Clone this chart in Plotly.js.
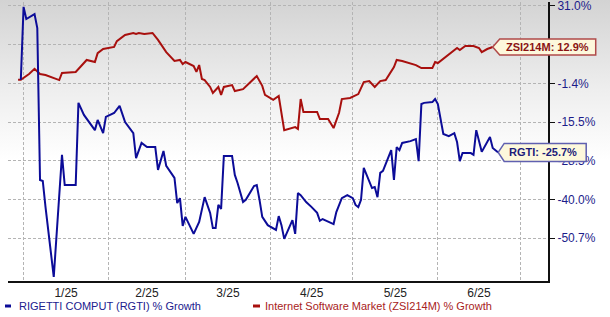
<!DOCTYPE html>
<html>
<head>
<meta charset="utf-8">
<script src="https://cdn.plot.ly/plotly-3.0.1.min.js"></script>
<style>
  html, body { margin: 0; padding: 0; }
  body { width: 610px; height: 317px; overflow: hidden;
         background: linear-gradient(to bottom, #d3d3d3 0px, #eeeeee 90px, #ffffff 160px, #ffffff 317px); }
  #chart { width: 610px; height: 317px; }
</style>
</head>
<body>
<div id="chart"></div>
<script>
// ---- data (percent growth since start) ----
const rgtiDates = ["2024-12-31","2025-01-01","2025-01-02","2025-01-05","2025-01-06","2025-01-07","2025-01-08","2025-01-09","2025-01-12","2025-01-14","2025-01-15","2025-01-16","2025-01-20","2025-01-21","2025-01-23","2025-01-27","2025-01-28","2025-01-30","2025-01-31","2025-02-03","2025-02-05","2025-02-07","2025-02-10","2025-02-11","2025-02-13","2025-02-15","2025-02-18","2025-02-19","2025-02-21","2025-02-22","2025-02-25","2025-02-26","2025-02-27","2025-02-28","2025-03-01","2025-03-04","2025-03-06","2025-03-08","2025-03-10","2025-03-11","2025-03-12","2025-03-13","2025-03-14","2025-03-15","2025-03-18","2025-03-19","2025-03-20","2025-03-22","2025-03-23","2025-03-26","2025-03-27","2025-03-28","2025-03-29","2025-03-31","2025-04-03","2025-04-04","2025-04-05","2025-04-06","2025-04-09","2025-04-10","2025-04-11","2025-04-12","2025-04-14","2025-04-16","2025-04-18","2025-04-19","2025-04-20","2025-04-24","2025-04-25","2025-04-27","2025-04-29","2025-05-01","2025-05-02","2025-05-03","2025-05-04","2025-05-05","2025-05-07","2025-05-08","2025-05-09","2025-05-10","2025-05-11","2025-05-12","2025-05-15","2025-05-16","2025-05-17","2025-05-18","2025-05-19","2025-05-22","2025-05-24","2025-05-25","2025-05-26","2025-05-27","2025-05-30","2025-05-31","2025-06-01","2025-06-03","2025-06-05","2025-06-07","2025-06-08","2025-06-09","2025-06-10","2025-06-13","2025-06-14","2025-06-15","2025-06-17","2025-06-20","2025-06-21","2025-06-23"];
const rgtiPct = [0.0,30.6,25.2,27.4,21.2,-34.2,-34.5,-42.1,-61.4,-40.1,-26.5,-35.7,-35.7,-8.5,-12.9,-18.2,-14.7,-19.2,-13.6,-12.2,-9.6,-15.5,-19.2,-27.6,-22.5,-23.9,-23.9,-31.2,-25.2,-30.0,-33.6,-41.0,-39.6,-47.3,-44.8,-49.5,-46.2,-39.3,-43.7,-47.9,-47.9,-41.5,-42.6,-26.9,-26.9,-32.7,-35.1,-40.7,-40.1,-36.0,-35.7,-40.1,-44.8,-47.1,-48.4,-44.6,-47.1,-50.9,-45.7,-49.5,-38.1,-38.7,-40.7,-42.1,-43.7,-45.9,-45.4,-46.8,-43.5,-39.6,-38.7,-39.6,-41.5,-42.1,-40.1,-30.6,-34.8,-36.6,-36.3,-39.3,-32.1,-31.5,-24.9,-34.2,-23.9,-24.9,-22.5,-21.9,-21.2,-28.6,-8.9,-8.5,-8.2,-7.1,-8.9,-19.5,-20.2,-19.2,-22.2,-28.6,-25.9,-25.9,-26.5,-18.2,-25.5,-20.5,-24.2,-25.7];

const zsiDates = ["2024-12-30","2024-12-31","2025-01-03","2025-01-05","2025-01-07","2025-01-09","2025-01-14","2025-01-15","2025-01-20","2025-01-24","2025-01-27","2025-01-28","2025-01-30","2025-02-03","2025-02-04","2025-02-07","2025-02-10","2025-02-11","2025-02-12","2025-02-14","2025-02-17","2025-02-19","2025-02-22","2025-02-25","2025-02-27","2025-02-28","2025-03-01","2025-03-04","2025-03-05","2025-03-06","2025-03-07","2025-03-08","2025-03-10","2025-03-11","2025-03-13","2025-03-14","2025-03-15","2025-03-18","2025-03-19","2025-03-22","2025-03-27","2025-03-29","2025-03-30","2025-04-02","2025-04-04","2025-04-06","2025-04-10","2025-04-11","2025-04-12","2025-04-13","2025-04-18","2025-04-19","2025-04-22","2025-04-24","2025-04-26","2025-04-27","2025-04-30","2025-05-03","2025-05-05","2025-05-07","2025-05-09","2025-05-11","2025-05-13","2025-05-16","2025-05-17","2025-05-19","2025-05-24","2025-05-26","2025-05-30","2025-05-31","2025-06-01","2025-06-05","2025-06-08","2025-06-09","2025-06-11","2025-06-14","2025-06-16","2025-06-17","2025-06-19","2025-06-21"];
const zsiPct = [0.0,0.0,2.3,4.3,2.3,1.9,-0.1,2.7,3.1,7.8,7.0,10.5,12.1,12.9,15.4,18.1,19.0,18.6,19.0,18.6,19.0,15.9,10.9,7.4,7.8,6.2,7.0,5.4,3.1,5.8,0.3,-0.1,-2.7,-4.9,-2.7,-5.6,-2.7,-2.0,-4.2,-3.5,1.5,-2.3,-5.6,-7.4,-6.0,-18.2,-17.2,-17.8,-7.1,-11.8,-11.8,-14.4,-14.4,-17.5,-12.1,-7.1,-6.7,-5.3,-0.9,-0.5,-2.7,-0.5,-0.1,5.0,7.8,7.4,5.8,4.6,4.6,7.0,6.6,9.8,12.5,11.7,13.3,13.3,12.5,10.9,12.1,12.9];

// y-axis gridline labels (equally spaced on the chart); the 13.8% label is hidden behind the tag in the reference
const yTickPct = [-50.7, -40.0, -28.5, -15.5, -1.4, 13.8, 31.0];
const yTickShown = [true, true, true, true, true, false, true];
const yTickText = yTickPct.map((v, i) => yTickShown[i] ? v.toFixed(1) + '%' : '');

const rgtiName = 'RIGETTI COMPUT (RGTI) % Growth';
const zsiName = 'Internet Software Market (ZSI214M) % Growth';
const rgtiShort = 'RGTI';
const zsiShort = 'ZSI214M';

// ---- scale: position on the gridline ladder ----
function level(p) {
  const t = yTickPct;
  let i = 0;
  if (p <= t[0]) i = 0;
  else if (p >= t[t.length - 1]) i = t.length - 2;
  else { while (p > t[i + 1]) i++; }
  return i + (p - t[i]) / (t[i + 1] - t[i]);
}

const xRange = ['2024-12-26 07:48', '2025-07-11 03:36'];
const yRange = [-1.106, 6.103];
function ms(s) { return s.length === 10 ? Date.parse(s + 'T00:00:00Z') : Date.parse(s.replace(' ', 'T') + ':00Z'); }
function xPaper(d) { return (ms(d) - ms(xRange[0])) / (ms(xRange[1]) - ms(xRange[0])); }
function yPaper(l) { return (l - yRange[0]) / (yRange[1] - yRange[0]); }

const BLUE = '#0c0c98';
const RED = '#a8100e';
const FONT = 'Liberation Sans, Arial, sans-serif';

const traces = [
  { x: zsiDates, y: zsiPct.map(level), customdata: zsiPct, type: 'scatter', mode: 'lines', name: zsiName,
    line: { color: RED, width: 2 }, hovertemplate: '%{x}: %{customdata:.1f}%<extra></extra>' },
  { x: rgtiDates, y: rgtiPct.map(level), customdata: rgtiPct, type: 'scatter', mode: 'lines', name: rgtiName,
    line: { color: BLUE, width: 2 }, hovertemplate: '%{x}: %{customdata:.1f}%<extra></extra>' }
];

const zLast = zsiPct[zsiPct.length - 1], rLast = rgtiPct[rgtiPct.length - 1];
const zx = xPaper(zsiDates[zsiDates.length - 1]), zy = yPaper(level(zLast));
const rx = xPaper(rgtiDates[rgtiDates.length - 1]), ry = yPaper(level(rLast));

const legendY = -0.0896;

const layout = {
  width: 610, height: 317,
  margin: { l: 8, r: 62, t: 2, b: 36, pad: 0 },
  paper_bgcolor: 'rgba(0,0,0,0)',
  plot_bgcolor: 'rgba(0,0,0,0)',
  showlegend: false,
  font: { family: FONT, size: 12, color: '#222' },
  xaxis: {
    type: 'date', range: xRange,
    tick0: '2025-01-01', dtick: 'M1', ticklabelmode: 'period', tickformat: '%-m/%y',
    showgrid: true, gridcolor: '#b4b4b4', gridwidth: 1, griddash: '3px,2px',
    showline: true, linecolor: '#111', linewidth: 2, ticks: '', zeroline: false,
    tickfont: { family: FONT, size: 12, color: '#222' }, fixedrange: true
  },
  yaxis: {
    side: 'right', range: yRange, tickmode: 'array',
    tickvals: yTickPct.map((v, i) => i), ticktext: yTickText,
    ticklabeloverflow: 'allow',
    showgrid: true, gridcolor: '#b4b4b4', gridwidth: 1, griddash: '3px,2px',
    showline: true, linecolor: '#111', linewidth: 2,
    ticks: 'outside', ticklen: 5, tickwidth: 1, tickcolor: '#111',
    zeroline: false, tickfont: { family: FONT, size: 12, color: '#1c1c8a' }, fixedrange: true
  },
  shapes: [
    { type: 'path', xref: 'paper', yref: 'paper', xsizemode: 'pixel', ysizemode: 'pixel',
      xanchor: zx, yanchor: zy, path: 'M0,0 L7,8 L103,8 L103,-8 L7,-8 Z',
      fillcolor: '#fdf8dc', line: { color: '#b04a4a', width: 1.5 }, layer: 'above' },
    { type: 'path', xref: 'paper', yref: 'paper', xsizemode: 'pixel', ysizemode: 'pixel',
      xanchor: rx, yanchor: ry, path: 'M0,0 L6,9 L88,9 L88,-9 L6,-9 Z',
      fillcolor: '#fdf8dc', line: { color: '#6060b0', width: 1.5 }, layer: 'above' },
    { type: 'line', xref: 'paper', yref: 'paper', x0: -0.0056, x1: 0.0056, y0: legendY, y1: legendY,
      line: { color: BLUE, width: 3 } },
    { type: 'line', xref: 'paper', yref: 'paper', x0: 0.4537, x1: 0.4667, y0: legendY, y1: legendY,
      line: { color: RED, width: 3 } }
  ],
  annotations: [
    { xref: 'paper', yref: 'paper', x: zx, y: zy, xanchor: 'left', yanchor: 'middle', xshift: 11,
      showarrow: false, text: '<b>' + zsiShort + ': ' + zLast.toFixed(1) + '%</b>',
      font: { family: FONT, size: 11, color: '#8a1414' } },
    { xref: 'paper', yref: 'paper', x: rx, y: ry, xanchor: 'left', yanchor: 'middle', xshift: 9,
      showarrow: false, text: '<b>' + rgtiShort + ': ' + rLast.toFixed(1) + '%</b>',
      font: { family: FONT, size: 11, color: '#1c1c7a' } },
    { xref: 'paper', yref: 'paper', x: 0.0167, y: legendY, xanchor: 'left', yanchor: 'middle',
      showarrow: false, text: rgtiName, font: { family: FONT, size: 11, color: '#20208e' } },
    { xref: 'paper', yref: 'paper', x: 0.472, y: legendY, xanchor: 'left', yanchor: 'middle',
      showarrow: false, text: zsiName, font: { family: FONT, size: 11, color: '#a82222' } }
  ]
};

Plotly.newPlot('chart', traces, layout, { displayModeBar: false, staticPlot: true });
</script>
</body>
</html>
